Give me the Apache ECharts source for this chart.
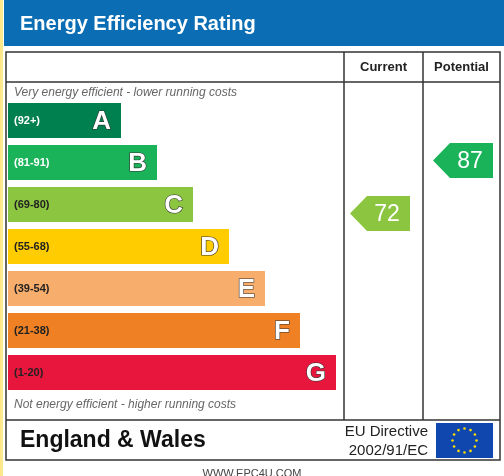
<!DOCTYPE html>
<html>
<head>
<meta charset="utf-8">
<script src="https://cdn.jsdelivr.net/npm/echarts@6/dist/echarts.min.js"></script>
<style>html,body{margin:0;padding:0;background:#fff}#main{width:504px;height:476px}</style>
</head>
<body>
<div id="main"></div>
<script>
// bands, top to bottom
var bands = ['A', 'B', 'C', 'D', 'E', 'F', 'G'];
var ranges = ['(92+)', '(81-91)', '(69-80)', '(55-68)', '(39-54)', '(21-38)', '(1-20)'];
var barLengths = [113, 149, 185, 221, 257, 292, 328];
var colors = ['#00804f', '#1bb35a', '#8cc641', '#ffcc00', '#f7ad6b', '#ef8023', '#e8163c'];
var rangeColors = ['#fff', '#fff', '#222', '#222', '#222', '#222', '#222'];
var current = ['C', 72];
var potential = ['B', 87];

var chart = echarts.init(document.getElementById('main'));

function barItem(params, api) {
  var i = params.dataIndex;
  var p = api.coord([api.value(0), api.value(1)]);
  var o = api.coord([0, api.value(1)]);
  var h = api.size([0, 1])[1] * 0.83;
  return {
    type: 'group',
    children: [
      { type: 'rect', shape: { x: o[0], y: p[1] - h / 2, width: p[0] - o[0], height: h }, style: { fill: colors[i] } },
      { type: 'text', style: { x: o[0] + 6, y: p[1], text: ranges[i], fill: rangeColors[i], font: 'bold 11px Arial', verticalAlign: 'middle' } },
      { type: 'text', style: { x: p[0] - 10, y: p[1] + 1, text: bands[i], fill: '#fff', stroke: '#333', lineWidth: 1.2, font: 'bold 26px Arial', align: 'right', verticalAlign: 'middle' } }
    ]
  };
}

function arrowItem(color, padL, padR, dy) {
  return function (params, api) {
    var x0 = api.coord([0, api.value(0)]);
    var x1 = api.coord([1, api.value(0)]);
    var h = api.size([0, 1])[1] * 0.83;
    var l = x0[0] + padL, r = x1[0] - padR, cy = x0[1] + dy, t = cy - h / 2, b = cy + h / 2;
    return {
      type: 'group',
      children: [
        { type: 'polygon', shape: { points: [[l, cy], [l + 17, t], [r, t], [r, b], [l + 17, b]] }, style: { fill: color } },
        { type: 'text', style: { x: (l + r) / 2 + 7, y: cy + 1, text: String(api.value(1)), fill: '#fff', font: '23px Arial', align: 'center', verticalAlign: 'middle' } }
      ]
    };
  };
}

var gTop = 99.5, gH = 294;
var option = {
  animation: false,
  grid: [
    { left: 8, top: gTop, width: 336, height: gH },
    { left: 344, top: gTop, width: 79, height: gH },
    { left: 423, top: gTop, width: 77, height: gH }
  ],
  xAxis: [0, 1, 2].map(function (k) {
    return { gridIndex: k, type: 'value', min: 0, max: k === 0 ? 336 : 1, show: false };
  }),
  yAxis: [0, 1, 2].map(function (k) {
    return { gridIndex: k, type: 'category', data: bands, inverse: true, show: false };
  }),
  series: [
    { type: 'custom', xAxisIndex: 0, yAxisIndex: 0, renderItem: barItem,
      data: barLengths.map(function (v, i) { return [v, bands[i]]; }) },
    { type: 'custom', xAxisIndex: 1, yAxisIndex: 1, renderItem: arrowItem(colors[bands.indexOf(current[0])], 6, 13, 9),
      encode: { y: 0 }, data: [current] },
    { type: 'custom', xAxisIndex: 2, yAxisIndex: 2, renderItem: arrowItem(colors[bands.indexOf(potential[0])], 10, 7, -2),
      encode: { y: 0 }, data: [potential] }
  ],
  graphic: [
    { type: 'rect', shape: { x: 0, y: 0, width: 3, height: 476 }, style: { fill: '#fde98a' } },
    { type: 'rect', shape: { x: 4, y: 0, width: 500, height: 46 }, style: { fill: '#0b6eb4' } },
    { type: 'text', style: { x: 20, y: 24, text: 'Energy Efficiency Rating', fill: '#fff', font: 'bold 20px Arial', verticalAlign: 'middle' } },
    { type: 'rect', shape: { x: 6, y: 52, width: 494, height: 408 }, style: { fill: 'none', stroke: '#333', lineWidth: 1.5 } },
    { type: 'line', shape: { x1: 6, y1: 82, x2: 500, y2: 82 }, style: { stroke: '#333', lineWidth: 1.5 } },
    { type: 'line', shape: { x1: 6, y1: 420, x2: 500, y2: 420 }, style: { stroke: '#333', lineWidth: 1.5 } },
    { type: 'line', shape: { x1: 344, y1: 52, x2: 344, y2: 420 }, style: { stroke: '#333', lineWidth: 1.5 } },
    { type: 'line', shape: { x1: 423, y1: 52, x2: 423, y2: 420 }, style: { stroke: '#333', lineWidth: 1.5 } },
    { type: 'text', style: { x: 383.5, y: 67, text: 'Current', fill: '#222', font: 'bold 13px Arial', align: 'center', verticalAlign: 'middle' } },
    { type: 'text', style: { x: 461.5, y: 67, text: 'Potential', fill: '#222', font: 'bold 13px Arial', align: 'center', verticalAlign: 'middle' } },
    { type: 'text', style: { x: 14, y: 93, text: 'Very energy efficient - lower running costs', fill: '#666', font: 'italic 12px Arial', verticalAlign: 'middle' } },
    { type: 'text', style: { x: 14, y: 405, text: 'Not energy efficient - higher running costs', fill: '#666', font: 'italic 12px Arial', verticalAlign: 'middle' } },
    { type: 'text', style: { x: 20, y: 441, text: 'England & Wales', fill: '#111', font: 'bold 23px Arial', verticalAlign: 'middle' } },
    { type: 'text', style: { x: 428, y: 432, text: 'EU Directive', fill: '#222', font: '15px Arial', align: 'right', verticalAlign: 'middle' } },
    { type: 'text', style: { x: 428, y: 451, text: '2002/91/EC', fill: '#222', font: '15px Arial', align: 'right', verticalAlign: 'middle' } },
    { type: 'rect', shape: { x: 436, y: 423, width: 57, height: 35 }, style: { fill: '#0f47af' } },
    { type: 'group', children: Array.apply(null, Array(12)).map(function (_, k) {
        var a = k * Math.PI / 6;
        return { type: 'circle', shape: { cx: 464.5 + 12 * Math.cos(a), cy: 440.5 + 12 * Math.sin(a), r: 1.3 }, style: { fill: '#ffdd00' } };
      }) },
    { type: 'text', style: { x: 252, y: 474, text: 'WWW.EPC4U.COM', fill: '#444', font: '11px Arial', align: 'center', verticalAlign: 'middle' } }
  ]
};
chart.setOption(option);
</script>
</body>
</html>
